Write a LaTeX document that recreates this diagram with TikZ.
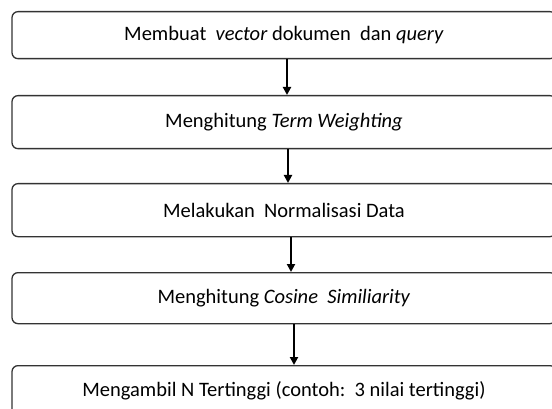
\documentclass[tikz,border=0pt]{standalone}
\usepackage{fontspec}
\setmainfont{Carlito}
\usetikzlibrary{arrows.meta}
\begin{document}
\begin{tikzpicture}[x=1pt,y=-1pt]
\useasboundingbox (0,0) rectangle (552,409);
\clip (0,0) rectangle (552,409);
\tikzset{
  stepbox/.style={draw=black!80, line width=1.3pt, rounded corners=6pt,
    minimum width=544pt, inner sep=0pt, anchor=north,
    font=\fontsize{20.5}{24}\selectfont},
  arr/.style={line width=2.2pt, -{Triangle[width=8pt,length=8pt]}}
}
\node[stepbox, minimum height=47pt] (b1) at (284,11) {Membuat\ \ \textit{vector} dokumen\ \ dan \textit{query}};
\node[stepbox, minimum height=53pt] (b2) at (284,95) {Menghitung \textit{Term Weighting}};
\node[stepbox, minimum height=53pt] (b3) at (284,183) {Melakukan\ \ Normalisasi Data};
\node[stepbox, minimum height=51pt] (b4) at (284,272) {Menghitung \textit{Cosine\ \ Similiarity}};
\node[stepbox, minimum height=50pt] (b5) at (284,365) {Mengambil N Tertinggi (contoh:\ \ 3 nilai tertinggi)};
\draw[arr] ([xshift=3pt]b1.south) -- ([xshift=3pt]b2.north);
\draw[arr] ([xshift=4pt]b2.south) -- ([xshift=4pt]b3.north);
\draw[arr] ([xshift=7pt]b3.south) -- ([xshift=7pt]b4.north);
\draw[arr] ([xshift=10pt]b4.south) -- ([xshift=10pt]b5.north);
\end{tikzpicture}
\end{document}
